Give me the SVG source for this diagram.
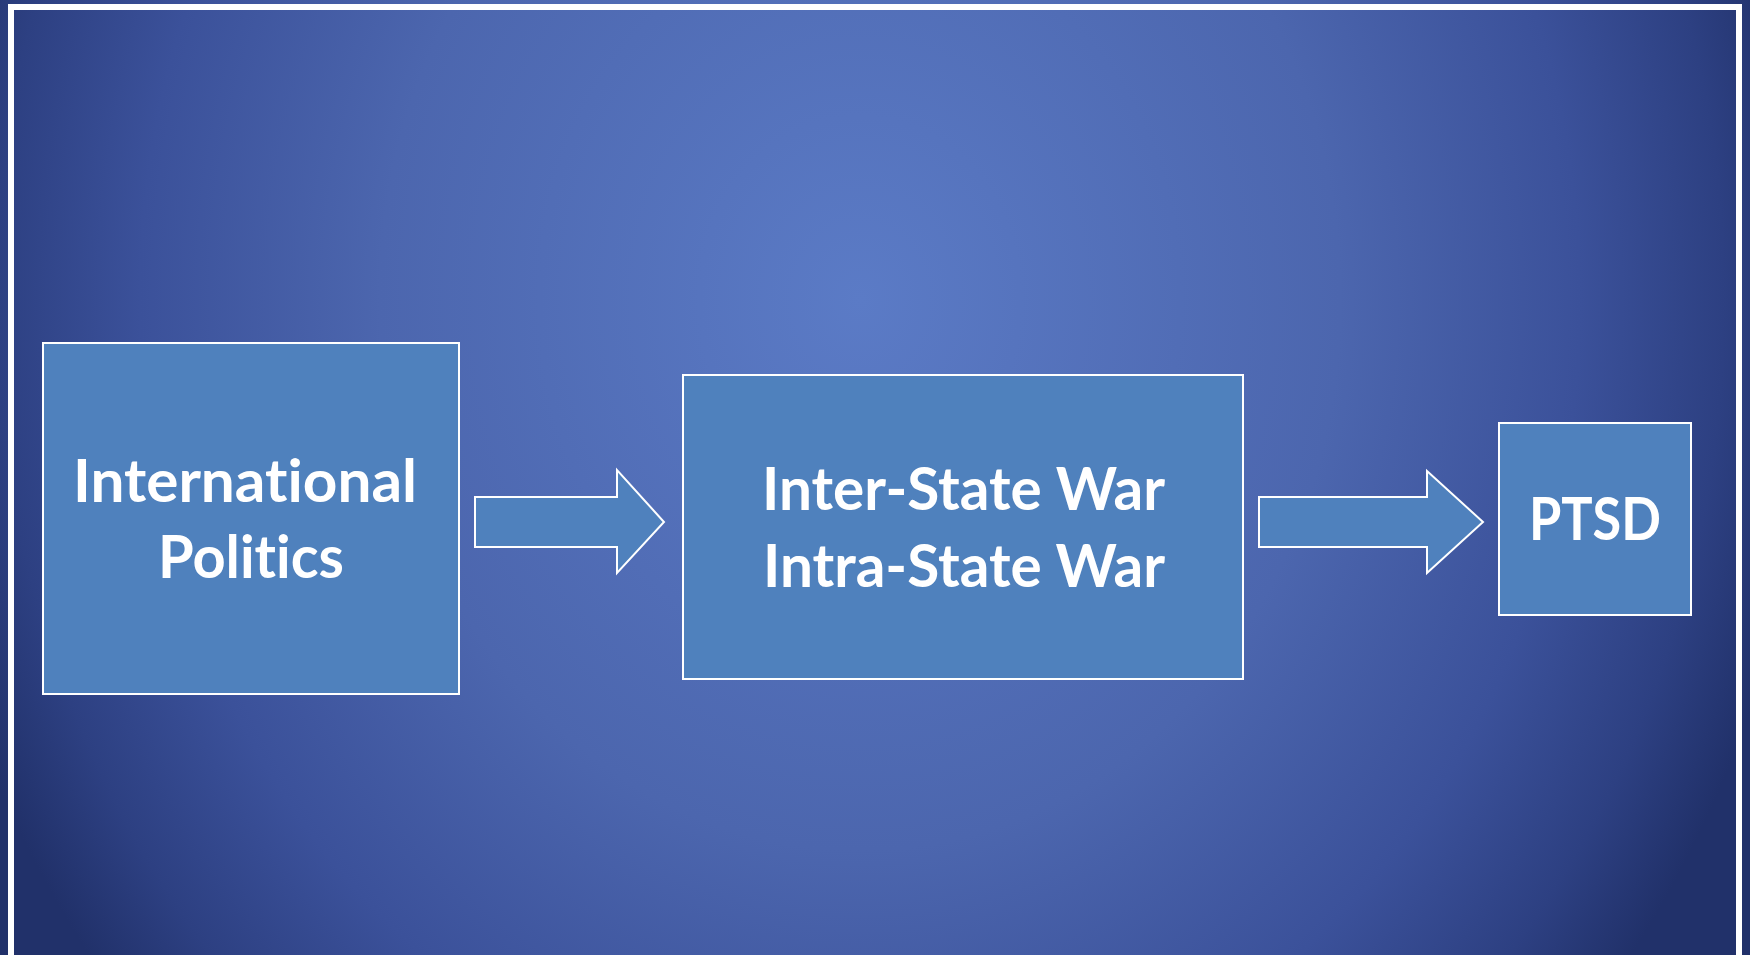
<svg xmlns="http://www.w3.org/2000/svg" width="1750" height="955" viewBox="0 0 1750 955">
  <defs>
    <radialGradient id="bg" gradientUnits="userSpaceOnUse" cx="0" cy="0" r="1" gradientTransform="translate(860 300) scale(960 1100)">
      <stop offset="0" stop-color="#5b7bc6"/>
      <stop offset="0.5" stop-color="#4c66ae"/>
      <stop offset="0.75" stop-color="#3b519a"/>
      <stop offset="0.9" stop-color="#2d4082"/>
      <stop offset="1" stop-color="#21316a"/>
    </radialGradient>
  </defs>
  <style>
    .node { fill: #4f81bd; stroke: #ffffff; stroke-width: 2; }
    .arrow { fill: #4f81bd; stroke: #ffffff; stroke-width: 2; stroke-linejoin: miter; }
    .label { font-family: "Lato", "Open Sans", sans-serif; font-weight: bold; font-size: 60px; fill: #ffffff; font-variant-ligatures: none; font-feature-settings: "liga" 0, "clig" 0; }
  </style>
  <rect x="0" y="0" width="1750" height="955" fill="url(#bg)"/>
  <rect x="11" y="7" width="1728" height="954" fill="none" stroke="#ffffff" stroke-width="6"/>

  <g id="node-international-politics">
    <rect class="node" x="43" y="343" width="416" height="351"/>
    <text class="label" x="73" y="502" textLength="344" lengthAdjust="spacingAndGlyphs">International</text>
    <text class="label" x="158" y="578" textLength="186" lengthAdjust="spacingAndGlyphs">Politics</text>
  </g>

  <g id="node-war">
    <rect class="node" x="683" y="375" width="560" height="304"/>
    <text class="label" x="762" y="510" textLength="403" lengthAdjust="spacingAndGlyphs">Inter-State War</text>
    <text class="label" x="763" y="587" textLength="402" lengthAdjust="spacingAndGlyphs">Intra-State War</text>
  </g>

  <g id="node-ptsd">
    <rect class="node" x="1499" y="423" width="192" height="192"/>
    <text class="label" x="1529" y="540" textLength="132" lengthAdjust="spacingAndGlyphs">PTSD</text>
  </g>

  <g id="connectors">
    <polygon class="arrow" points="475,497 617,497 617,470 664,522 617,573 617,547 475,547"/>
    <polygon class="arrow" points="1259,497 1427,497 1427,471 1483,522 1427,573 1427,547 1259,547"/>
  </g>
</svg>
